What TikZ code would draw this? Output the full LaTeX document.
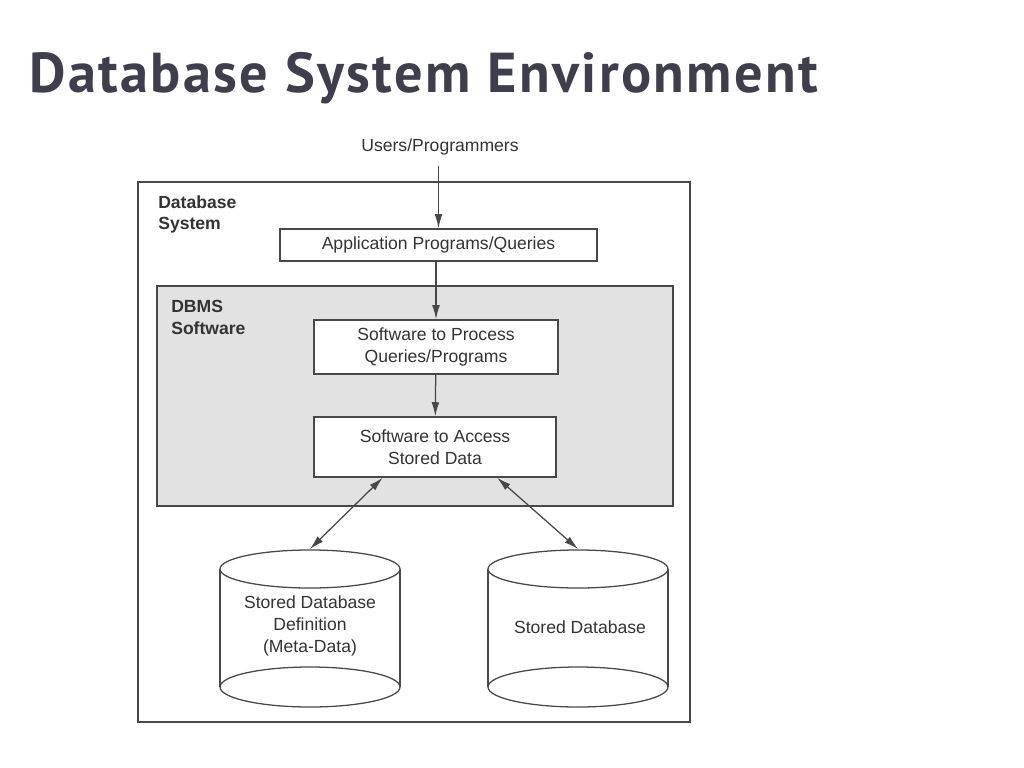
\documentclass[tikz,border=0pt]{standalone}
\usepackage{fontspec}
\setmainfont{Liberation Sans}
\newfontfamily\titlefont[LetterSpace=4.3]{PT Sans}
\usetikzlibrary{arrows.meta,calc,positioning}
\definecolor{titlegray}{RGB}{62,62,76}
\definecolor{linegray}{RGB}{72,72,72}
\definecolor{dbmsgray}{RGB}{226,226,226}

\begin{document}
\begin{tikzpicture}[x=0.025cm,y=-0.025cm,
    every node/.style={text=black!80},
    frame/.style={draw=linegray,line width=1pt,inner sep=0pt},
    box/.style={frame,fill=white,align=center,font=\fontsize{12.5}{15.5}\selectfont},
    lbl/.style={anchor=north west,align=left,inner sep=0pt,font=\fontsize{12.5}{15.5}\selectfont\bfseries},
    flow/.style={draw=linegray,line width=0.9pt,-{Latex[length=10pt,width=5.5pt]}},
    link/.style={flow,{Latex[length=10pt,width=5.5pt]}-{Latex[length=10pt,width=5.5pt]}},
    cyl/.style={draw=linegray,line width=0.9pt}]
  \useasboundingbox[fill=white] (0,0) rectangle (1024,768);

  % title
  \node[anchor=base west,inner sep=0pt,text=titlegray,
        font=\titlefont\bfseries\fontsize{40}{48}\selectfont] (title) at (29,93) {Database System Environment};

  % outer frames
  \node[frame,minimum width=13.8cm,minimum height=13.5cm] (dbsys) at (414,452) {};
  \node[frame,fill=dbmsgray,minimum width=12.9cm,minimum height=5.5cm] (dbms) at (415,396) {};
  \node[lbl] (dbsyslbl) at (158,195) {Database\\System};
  \node[lbl] (dbmslbl) at (171,300) {DBMS\\Software};

  % boxes
  \node[font=\fontsize{12.5}{15.5}\selectfont] (users) at (440,147) {Users/Programmers};
  \node[box,minimum width=7.925cm,minimum height=0.8cm] (app) at (438.5,245) {Application Programs/Queries};
  \node[box,minimum width=6.1cm,minimum height=1.35cm] (process) at (436,347) {Software to Process\\Queries/Programs};
  \node[box,minimum width=6.05cm,minimum height=1.5cm] (access) at (435,447) {Software to Access\\Stored Data};

  % cylinders
  \foreach \cx/\nm in {310/meta,578/data} {
    \fill[white] (\cx-90,569) rectangle (\cx+90,687);
    \draw[cyl,fill=white] (\cx,687) ellipse (90 and 20);
    \draw[cyl] (\cx-90,569) -- (\cx-90,687);
    \draw[cyl] (\cx+90,569) -- (\cx+90,687);
    \draw[cyl,fill=white] (\cx,569) ellipse (90 and 19);
    \coordinate (\nm-top) at (\cx,549);
  }
  \node[align=center,font=\fontsize{12.5}{15.5}\selectfont] (meta) at (310,626) {Stored Database\\Definition\\(Meta-Data)};
  \node[font=\fontsize{12.5}{15.5}\selectfont] (data) at (580,627) {Stored Database};

  % connectors
  \draw[flow,shorten <=4pt] (users.south -| app.north) -- (app.north);
  \draw[flow] (app.south -| process.north) -- (process.north);
  \draw[flow] (process) -- (access);
  \draw[link] ($(access.south west)!0.285!(access.south east)$) -- (meta-top);
  \draw[link] ($(access.south west)!0.755!(access.south east)$) -- (data-top);
\end{tikzpicture}
\end{document}
